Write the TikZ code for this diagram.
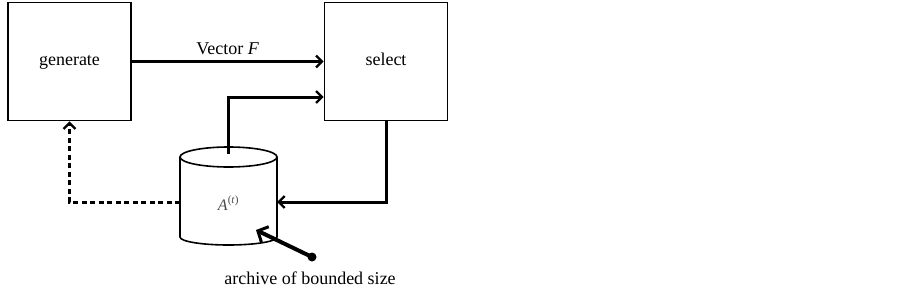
\documentclass[tikz,border=0pt]{standalone}
\usepackage{fontspec}
\setmainfont{Liberation Serif}
\usetikzlibrary{arrows.meta}

\begin{document}
\begin{tikzpicture}[x=1pt, y=-1pt,
	box/.style={draw, line width=1.6pt, minimum width=123pt, minimum height=118pt, text height=12pt, text depth=4pt, font=\fontsize{18}{21}\selectfont},
	flow/.style={line width=3pt, -{Straight Barb[length=6pt, width=12pt, line width=2.4pt]}},
	back/.style={flow, dash pattern=on 5pt off 3.5pt}]
	\useasboundingbox (0,0) rectangle (903,289);
	\node[box] (gen) at (69.5,61.5) {generate};
	\node[box] (sel) at (386,61.5) {select};
	% archive drum
	\draw[line width=1.6pt] (228.5,157) ellipse [x radius=48.5pt, y radius=10pt];
	\draw[line width=1.6pt] (180,157) -- (180,237)
		arc[start angle=180, end angle=360, x radius=48.5pt, y radius=8pt] -- (277,157);
	\coordinate (arctop) at (228.5,154);
	\coordinate (arcright) at (277,202);
	\coordinate (arcleft) at (180,202);
	\node[text=black!70, font=\fontsize{16}{18}\selectfont] (arcname) at (228.5,203) {\textit{A}\textsuperscript{(\textit{t})}};
	\coordinate (tip) at (256,230);
	\node[circle, fill, inner sep=0pt, minimum size=9pt] (dot) at (312,257) {};
	\node[font=\fontsize{18}{21}\selectfont] (cap) at (310,278) {archive of bounded size};
	% connectors
	\draw[flow] (gen.east) -- (sel.west) node[midway, above=2pt, font=\fontsize{18}{21}\selectfont] {Vector \textit{F}};
	\draw[flow] (arctop) |- ([yshift=-35.5pt]sel.west);
	\draw[flow] (sel.south) |- (arcright);
	\draw[back] (arcleft) -| (gen.south);
	\draw[line width=4pt, -{Straight Barb[length=8pt, width=17pt, line width=3pt]}] (dot.center) -- (tip);
\end{tikzpicture}
\end{document}
